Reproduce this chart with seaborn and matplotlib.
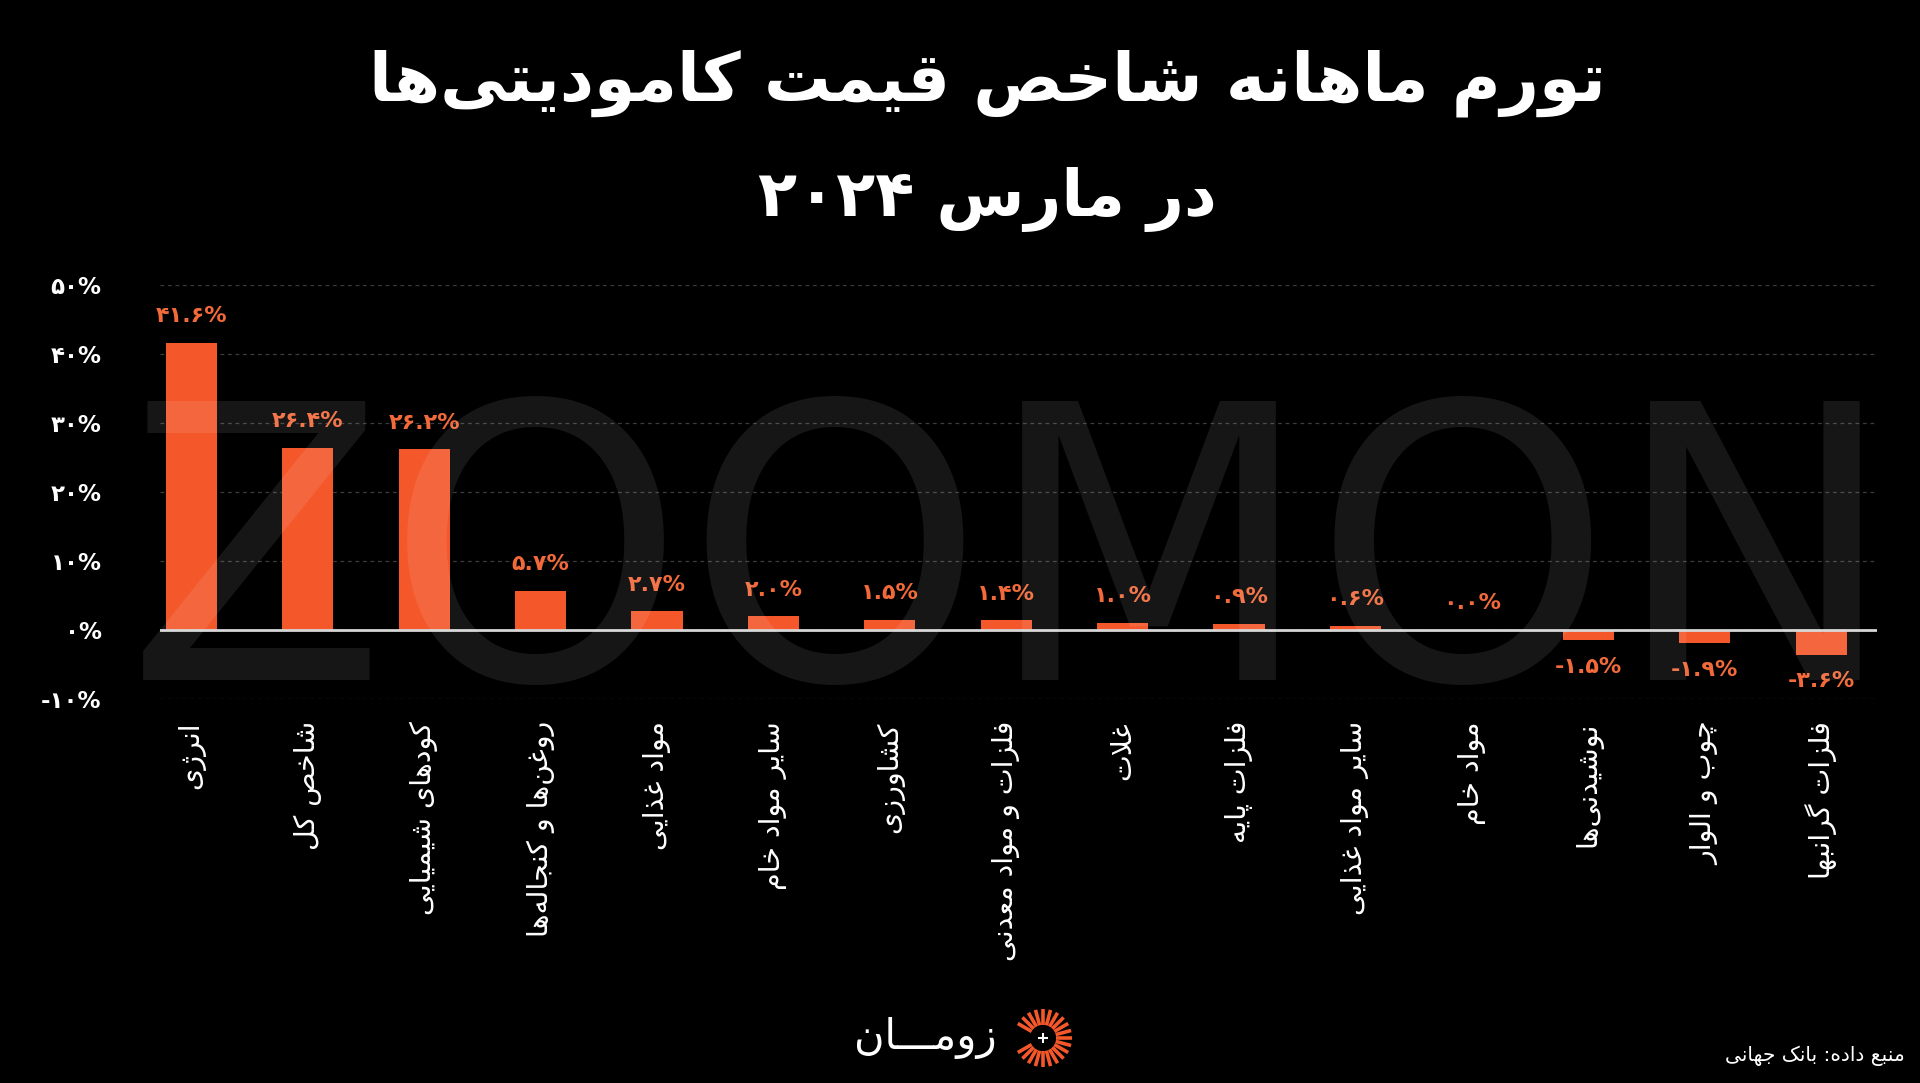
import numpy as np
import pandas as pd
import seaborn as sns
import matplotlib.pyplot as plt
from matplotlib.ticker import FuncFormatter

# data (left to right as in the picture)
categories = [
    "انرژی", "شاخص کل", "کودهای شیمیایی", "روغن‌ها و کنجاله‌ها", "مواد غذایی",
    "سایر مواد خام", "کشاورزی", "فلزات و مواد معدنی", "غلات", "فلزات پایه",
    "سایر مواد غذایی", "مواد خام", "نوشیدنی‌ها", "چوب و الوار", "فلزات گرانبها",
]
values = [41.6, 26.4, 26.2, 5.7, 2.7, 2.0, 1.5, 1.4, 1.0, 0.9, 0.6, 0.0, -1.5, -1.9, -3.6]
y_ticks = [-10, 0, 10, 20, 30, 40, 50]
title_lines = ["تورم ماهانه شاخص قیمت کامودیتی‌ها", "در مارس ۲۰۲۴"]
source_text = "منبع داده: بانک جهانی"
brand_text = "زومـــان"
watermark = "ZOOMON"

BAR = "#f4572a"
LBL = "#f26a3a"

# --- tiny arabic/persian shaper (matplotlib has no text shaping) ---
FORMS = {}
def _add(ch, start, n):
    FORMS[ch] = tuple(chr(start + k) for k in range(n))
for ch, cp, n in [('ء', 0xFE80, 1), ('آ', 0xFE81, 2), ('أ', 0xFE83, 2), ('ؤ', 0xFE85, 2),
                  ('إ', 0xFE87, 2), ('ئ', 0xFE89, 4), ('ا', 0xFE8D, 2), ('ب', 0xFE8F, 4),
                  ('ة', 0xFE93, 2), ('ت', 0xFE95, 4), ('ث', 0xFE99, 4), ('ج', 0xFE9D, 4),
                  ('ح', 0xFEA1, 4), ('خ', 0xFEA5, 4), ('د', 0xFEA9, 2), ('ذ', 0xFEAB, 2),
                  ('ر', 0xFEAD, 2), ('ز', 0xFEAF, 2), ('س', 0xFEB1, 4), ('ش', 0xFEB5, 4),
                  ('ص', 0xFEB9, 4), ('ض', 0xFEBD, 4), ('ط', 0xFEC1, 4), ('ظ', 0xFEC5, 4),
                  ('ع', 0xFEC9, 4), ('غ', 0xFECD, 4), ('ف', 0xFED1, 4), ('ق', 0xFED5, 4),
                  ('ك', 0xFED9, 4), ('ل', 0xFEDD, 4), ('م', 0xFEE1, 4), ('ن', 0xFEE5, 4),
                  ('ه', 0xFEE9, 4), ('و', 0xFEED, 2), ('ى', 0xFEEF, 2), ('ي', 0xFEF1, 4),
                  ('پ', 0xFB56, 4), ('چ', 0xFB7A, 4), ('ژ', 0xFB8A, 2), ('ک', 0xFB8E, 4),
                  ('گ', 0xFB92, 4), ('ی', 0xFBFC, 4)]:
    _add(ch, cp, n)

LTR = set("0123456789۰۱۲۳۴۵۶۷۸۹.%")


def dual(c):
    return c == 'ـ' or (c in FORMS and len(FORMS[c]) == 4)


def joins(c):
    return c == 'ـ' or (c in FORMS and len(FORMS[c]) >= 2)


def shape(text):
    out = []
    i, n = 0, len(text)
    while i < n:
        c = text[i]
        prev = text[i - 1] if i > 0 else ''
        nxt = text[i + 1] if i + 1 < n else ''
        jp = joins(c) and dual(prev)
        if c == 'ل' and nxt in ('ا', 'آ'):
            lig = {'ا': ('\uFEFB', '\uFEFC'), 'آ': ('\uFEF5', '\uFEF6')}[nxt]
            out.append(lig[1] if jp else lig[0])
            i += 2
            continue
        if c not in FORMS:
            if c != '\u200c':
                out.append(c)
            i += 1
            continue
        jn = dual(c) and joins(nxt)
        f = FORMS[c]
        if jp and jn:
            g = f[3]
        elif jp:
            g = f[1]
        elif jn:
            g = f[2]
        else:
            g = f[0]
        out.append(g)
        i += 1
    # visual order: reverse, but keep number runs left to right
    runs = []
    for ch in out:
        kind = ch in LTR
        if runs and runs[-1][0] == kind:
            runs[-1][1].append(ch)
        else:
            runs.append([kind, [ch]])
    vis = ""
    for kind, chs in reversed(runs):
        vis += "".join(chs if kind else chs[::-1])
    return vis


def fa_num(s):
    return s.translate(str.maketrans("0123456789", "۰۱۲۳۴۵۶۷۸۹"))


sns.set_style("dark", {"axes.facecolor": "black", "figure.facecolor": "black"})
plt.rcParams['font.family'] = ['DejaVu Sans']

df = pd.DataFrame({"cat": categories, "val": values})

fig = plt.figure(figsize=(19.2, 10.83), dpi=100)
ax = fig.add_axes([0.0833, 0.3546, 0.8943, 0.3822])
ax.set_facecolor("black")

ax.yaxis.grid(True, linestyle=(0, (3, 3)), color="#3c3c3c", linewidth=0.9, zorder=0)
ax.xaxis.grid(False)
sns.barplot(data=df, x="cat", y="val", color=BAR, saturation=1, width=0.44, ax=ax,
            zorder=2, edgecolor="none", linewidth=0)
ax.axhline(0, color="#d6d6d6", linewidth=2, zorder=3)

ax.bar_label(ax.containers[0], labels=[fa_num(f"{v:.1f}") + "%" for v in values],
             padding=12, color=LBL, fontsize=16, fontweight="bold")

ax.set_ylim(-10, 50)
ax.set_xlim(-0.27, 14.48)
ax.set_yticks(y_ticks)
ax.yaxis.set_major_formatter(FuncFormatter(lambda t, p: fa_num(f"{int(t)}") + "%"))
ax.tick_params(axis="y", length=0, pad=42, labelsize=16.5, labelcolor="white")
for t in ax.get_yticklabels():
    t.set_fontweight("bold")
ax.set_xticks(range(len(categories)))
ax.set_xticklabels([shape(c) for c in categories], rotation=90, color="white", fontsize=20.5)
ax.tick_params(axis="x", length=0, pad=16)
ax.set_xlabel("")
ax.set_ylabel("")
for s in ax.spines.values():
    s.set_visible(False)

# titles
fig.text(0.514, 0.923, shape(title_lines[0]), ha="center", va="center",
         fontsize=48, fontweight="bold", color="white")
fig.text(0.514, 0.816, shape(title_lines[1]), ha="center", va="center",
         fontsize=46, fontweight="bold", color="white")

# watermark
fig.text(0.527, 0.372, watermark, ha="center", va="baseline", fontsize=274,
         color="white", alpha=0.09, zorder=10)

# footer
fig.text(0.992, 0.025, shape(source_text), ha="right", va="center", fontsize=14.5, color="white")
fig.text(0.482, 0.042, shape(brand_text), ha="center", va="center", fontsize=30, color="white")

icon = fig.add_axes([(1043 - 32) / 1920, 1 - (1038 + 32) / 1083, 64 / 1920, 64 / 1083])
icon.set_facecolor("black")
for a in np.radians(np.arange(-150, 151, 15)):
    icon.plot([0.45 * np.cos(a), np.cos(a)], [0.45 * np.sin(a), np.sin(a)],
              color=BAR, linewidth=2.6, solid_capstyle="butt")
icon.plot([0], [0], marker="+", color="white", markersize=7, markeredgewidth=1.5)
icon.set_xlim(-1.1, 1.1)
icon.set_ylim(-1.1, 1.1)
icon.set_aspect("equal")
icon.axis("off")

fig.savefig("out.png", dpi=100, facecolor="black")
